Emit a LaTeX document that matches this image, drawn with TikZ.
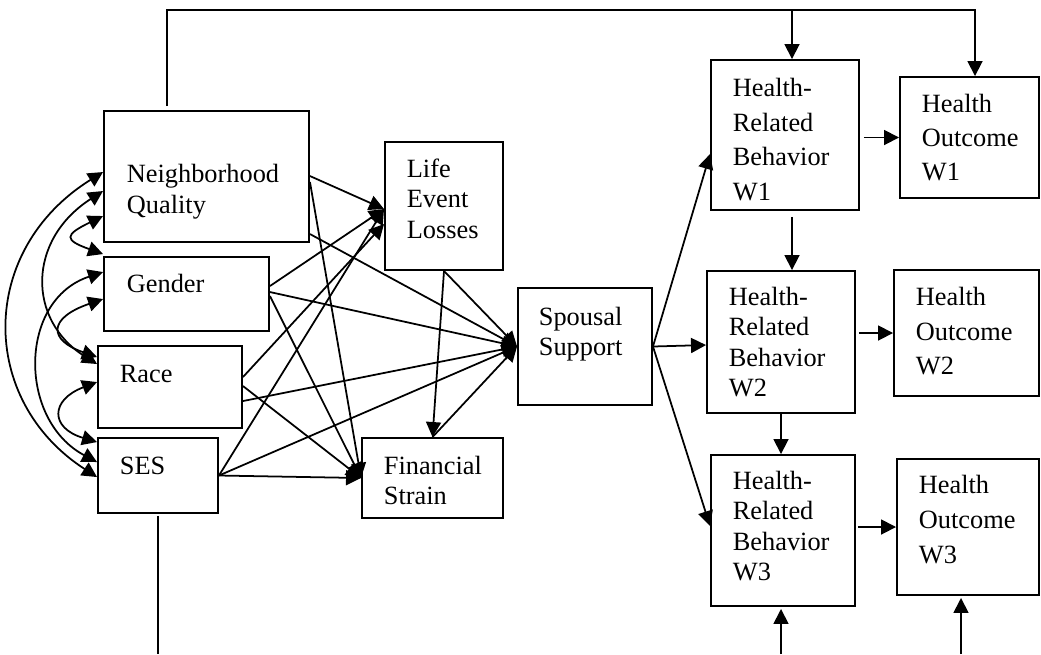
\documentclass[tikz,border=0pt]{standalone}
\usepackage{fontspec}
\setmainfont{Liberation Serif}
\usetikzlibrary{arrows.meta,calc,fit}
% stacked left-aligned lines; the node baseline is the first line's baseline
\newcommand\txtlines[2]{\vtop{\hsize=5cm\parindent=0pt\rightskip=0pt plus 1fil\baselineskip=#1\relax #2\par}}
\begin{document}
\begin{tikzpicture}[x=0.02cm,y=-0.02cm,
  line width=1pt,
  >={Triangle[length=0.3cm,width=0.3cm]},
  box/.style={draw,inner sep=0pt,line width=1.1pt},
  lbl/.style={anchor=base west,inner sep=0pt,font=\fontsize{15}{18}\selectfont},
]
\useasboundingbox (0,0) rectangle (1041,654);

% boxes
\node[box,fit={(104,111)(309,242)}] (nq) {};
\node[box,fit={(104,257)(269,331)}] (gen) {};
\node[box,fit={(98,346)(242,428)}] (race) {};
\node[box,fit={(98,438)(218,513)}] (ses) {};
\node[box,fit={(385,142)(503,270)}] (lel) {};
\node[box,fit={(362,438)(503,518)}] (fs) {};
\node[box,fit={(518,288)(652,405)}] (sp) {};
\node[box,fit={(711,60)(859,210)}] (h1) {};
\node[box,fit={(900,77)(1039,198)}] (o1) {};
\node[box,fit={(707,271)(855,413)}] (h2) {};
\node[box,fit={(894,270)(1039,396)}] (o2) {};
\node[box,fit={(711,455)(855,606)}] (h3) {};
\node[box,fit={(897,459)(1039,595)}] (o3) {};

% labels
\node[lbl] (nqt) at (126,182) {\txtlines{0.62cm}{Neighborhood\par Quality}};
\node[lbl] (gent) at (126,292) {Gender};
\node[lbl] (racet) at (119,382) {Race};
\node[lbl] (sest) at (119,474) {SES};
\node[lbl] (lelt) at (406,177) {\txtlines{0.61cm}{Life\par Event\par Losses}};
\node[lbl] (fst) at (383,474) {\txtlines{0.60cm}{Financial\par Strain}};
\node[lbl] (spt) at (538,325) {\txtlines{0.60cm}{Spousal\par Support}};
\node[lbl] (h1t) at (732,96) {\txtlines{0.70cm}{Health-\par Related\par Behavior\par W1}};
\node[lbl] (o1t) at (921,112) {\txtlines{0.69cm}{Health\par Outcome\par W1}};
\node[lbl] (h2t) at (728,305) {\txtlines{0.61cm}{Health-\par Related\par Behavior\par W2}};
\node[lbl] (o2t) at (915,305) {\txtlines{0.70cm}{Health\par Outcome\par W2}};
\node[lbl] (h3t) at (732,489) {\txtlines{0.61cm}{Health-\par Related\par Behavior\par W3}};
\node[lbl] (o3t) at (918,493) {\txtlines{0.70cm}{Health\par Outcome\par W3}};

% correlations among the background variables
\draw[<->] ($(nq.north west)+(0,106)$) .. controls (64,235) and (64,240) .. ($(gen.north west)+(0,-2)$);
\draw[<->] ($(gen.north west)+(0,43)$) .. controls (48,318) and (48,340) .. ($(race.north west)+(0,12)$);
\draw[<->] ($(race.north west)+(0,37)$) .. controls (50,400) and (50,428) .. ($(ses.north west)+(0,5)$);
\draw[<->] ($(nq.north west)+(0,81)$) .. controls (27,240) and (27,320) .. ($(race.north west)+(0,19)$);
\draw[<->] ($(gen.north west)+(0,16)$) .. controls (18,300) and (18,420) .. ($(ses.north west)+(0,25)$);
\draw[<->] ($(nq.north west)+(0,62)$) .. controls (-22,250) and (-22,400) .. ($(ses.north west)+(0,40)$);

% paths into the stressors and spousal support
\draw[->] ($(nq.north east)+(0,66)$) -- ($(lel.north west)+(0,68)$);
\draw[->] ($(nq.north east)+(0,72)$) -- (fs.west);
\draw[->] ($(nq.north east)+(0,124)$) -- (sp.west);
\draw[->] ($(gen.north east)+(0,30)$) -- ($(lel.north west)+(0,68)$);
\draw[->] ($(gen.north east)+(0,36)$) -- (sp.west);
\draw[->] ($(gen.north east)+(0,40)$) -- (fs.west);
\draw[->] ($(race.north east)+(0,32)$) -- ($(lel.north west)+(0,83)$);
\draw[->] ($(race.north east)+(0,41)$) -- (fs.west);
\draw[->] ($(race.north east)+(0,56)$) -- (sp.west);
\draw[->] (ses.east) -- ($(lel.north west)+(0,68)$);
\draw[->] (ses.east) -- (sp.west);
\draw[->] (ses.east) -- (fs.west);
\draw[->] (lel.south) -- (fs.north);
\draw[->] (lel.south) -- (sp.west);
\draw[->] (fs.north) -- (sp.west);

% spousal support to health-related behavior
\draw[->] (sp.east) -- ($(h1.north west)+(0,95)$);
\draw[->] (sp.east) -- ($(h2.north west)+(0,75)$);
\draw[->] (sp.east) -- ($(h3.north west)+(0,72)$);

% behavior to outcome, and across waves
\draw[->] ($(o1.west -| h1.east)+(4,0)$) -- (o1.west);
\draw[->] ($(o2.west -| h2.east)+(3,0)$) -- (o2.west);
\draw[->] ($(o3.west -| h3.east)+(2,0)$) -- (o3.west);
\draw[->] ($(h1.south)+(7,6)$) -- ($(h2.north)+(11,0)$);
\draw[->] (h2.south) -- (h2.south |- h3.north);

% neighborhood quality line over the top
\coordinate (tl) at (167,10);
\coordinate (tm) at (792,10);
\coordinate (tr) at (975,10);
\draw[->] ($(tl |- nq.north)+(0,-4)$) -- (tl) -- (tr) -- (tr |- o1.north);
\draw[->] (tm) -- (tm |- h1.north);

% SES line along the bottom
\coordinate (bl) at (158,654);
\coordinate (bm) at (781,654);
\coordinate (br) at (961,654);
\draw ($(bl |- ses.south)+(0,2)$) -- (bl);
\draw[->] (bm) -- ($(bm |- h3.south)+(0,2)$);
\draw[->] (br) -- ($(br |- o3.south)+(0,2)$);
\end{tikzpicture}
\end{document}
